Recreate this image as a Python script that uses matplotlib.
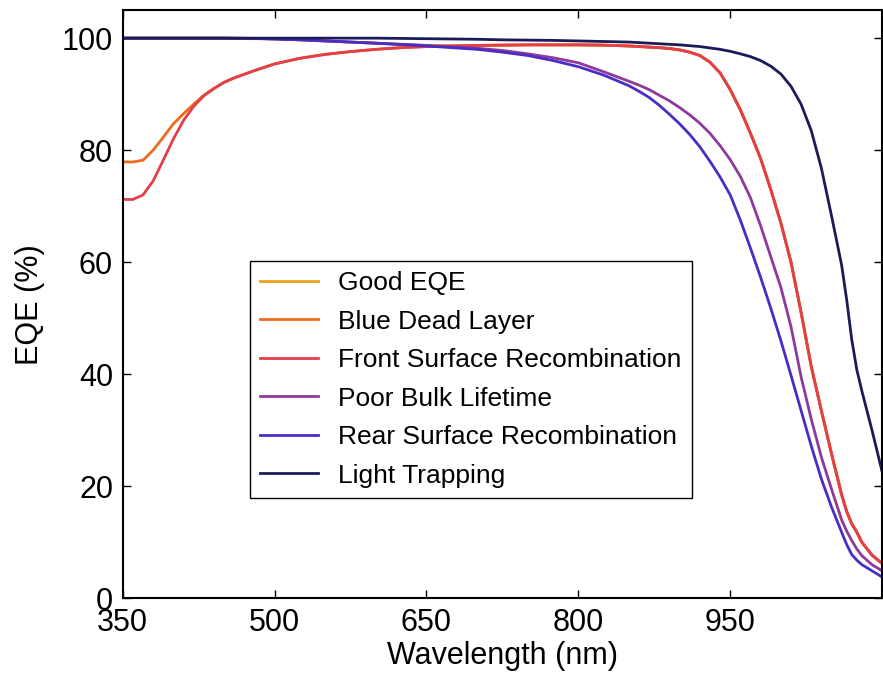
import numpy as np
import matplotlib
matplotlib.use('Agg')
import matplotlib.pyplot as plt

# EQE curves
wavelength = [350, 360, 370, 380, 390, 400, 410, 420, 430, 440, 450, 460, 480, 500,
              525, 550, 575, 600, 625, 650, 675, 700, 725, 750, 775, 800, 825, 850,
              860, 870, 880, 890, 900, 910, 920, 930, 940, 950, 960, 970, 980, 990, 1000,
              1010, 1020, 1030, 1040, 1050, 1060, 1065, 1070, 1075, 1080, 1090, 1100]

good_eqe = [100, 100, 100, 100, 100, 100, 100, 100, 100, 100, 100, 99.95, 99.9, 99.85,
            99.7, 99.5, 99.3, 99.1, 98.9, 98.7, 98.65, 98.7, 98.75, 98.8, 98.8, 98.8, 98.75, 98.6,
            98.5, 98.4, 98.3, 98.15, 97.9, 97.5, 96.9, 95.7, 93.8, 90.8, 87.2, 83, 78.5, 73, 67,
            60, 51, 41.4, 33.5, 25.8, 18.5, 15.5, 13.3, 11.8, 10, 7.7, 6.2]

blue_dead = [77.9, 77.9, 78.2, 80, 82.3, 84.7, 86.5, 88.2, 89.8, 91, 92.1, 92.9, 94.2, 95.4,
             96.4, 97.1, 97.6, 98.0, 98.3, 98.5, 98.6, 98.7, 98.75, 98.8, 98.8, 98.8, 98.75, 98.6,
             98.5, 98.4, 98.3, 98.15, 97.9, 97.5, 96.9, 95.7, 93.8, 90.8, 87.2, 83, 78.5, 73, 67,
             60, 51, 41.4, 33.5, 25.8, 18.5, 15.5, 13.3, 11.8, 10, 7.7, 6.2]

front_surface = [71.2, 71.2, 72, 74.5, 78.2, 82, 85.3, 87.8, 89.7, 91, 92.1, 92.9, 94.2, 95.4,
                 96.4, 97.1, 97.6, 98.0, 98.3, 98.5, 98.6, 98.7, 98.75, 98.8, 98.8, 98.8, 98.75, 98.6,
                 98.5, 98.4, 98.3, 98.15, 97.9, 97.5, 96.9, 95.7, 93.8, 90.8, 87.2, 83, 78.5, 73, 67,
                 60, 51, 41.4, 33.5, 25.8, 18.5, 15.5, 13.3, 11.8, 10, 7.7, 6.2]

poor_bulk = [100, 100, 100, 100, 100, 100, 100, 100, 100, 100, 100, 99.98, 99.95, 99.85,
             99.7, 99.5, 99.3, 99.1, 98.9, 98.7, 98.45, 98.2, 97.8, 97.2, 96.5, 95.6, 94.0, 92.3,
             91.6, 90.8, 89.8, 88.8, 87.6, 86.3, 84.8, 83, 80.8, 78.3, 75.3, 71.5, 66.5, 61, 55.5,
             48.5, 39.5, 32, 25.2, 19.5, 14, 12, 10.3, 8.8, 7.6, 6, 4.9]

rear_surface = [100, 100, 100, 100, 100, 100, 100, 100, 100, 100, 100, 99.98, 99.95, 99.85,
                99.7, 99.5, 99.3, 99.1, 98.85, 98.6, 98.3, 98.0, 97.5, 96.9, 96.0, 94.9, 93.4, 91.5,
                90.5, 89.4, 88.0, 86.4, 84.7, 82.8, 80.6, 78.0, 75.2, 72, 67.5, 62.5, 57.3, 51.8, 46,
                39.8, 33.5, 27.2, 21.3, 16.3, 11.8, 9.6, 7.8, 6.8, 6, 4.9, 3.8]

light_trapping = [100, 100, 100, 100, 100, 100, 100, 100, 100, 100, 100, 100, 100, 100,
                  100, 100, 100, 100, 99.95, 99.9, 99.85, 99.8, 99.7, 99.65, 99.6, 99.5, 99.4, 99.3,
                  99.2, 99.1, 99.0, 98.9, 98.8, 98.65, 98.5, 98.25, 98.0, 97.65, 97.2, 96.7, 96.0, 95.0, 93.6,
                  91.4, 88.2, 83.5, 76.8, 68.3, 59.5, 53.3, 46.2, 40.8, 37, 30, 22.6]

labels = ['Good EQE', 'Blue Dead Layer', 'Front Surface Recombination',
          'Poor Bulk Lifetime', 'Rear Surface Recombination', 'Light Trapping']
colours = ['#eba21a', '#ee6b1c', '#e23f4a', '#8e3a9c', '#4b2cc4', '#1c1b5a']

plt.rcParams['font.family'] = ['Liberation Sans', 'DejaVu Sans']

fig = plt.figure(figsize=(8.83, 6.76), dpi=100)
ax = fig.add_axes([0.139, 0.115, 0.860, 0.870])

series = [good_eqe, blue_dead, front_surface, poor_bulk, rear_surface, light_trapping]
for ys, lab, c in zip(series, labels, colours):
    ax.plot(wavelength, ys, color=c, lw=2.0, label=lab)

ax.set_xlim(350, 1100)
ax.set_ylim(0, 105)
ax.set_xticks([350, 500, 650, 800, 950])
ax.set_yticks([0, 20, 40, 60, 80, 100])
ax.tick_params(direction='in', top=True, right=True, length=6, width=1,
               labelsize=22, pad=7)
for sp in ax.spines.values():
    sp.set_linewidth(1.5)

ax.set_xlabel('Wavelength (nm)', fontsize=22, labelpad=2)
ax.set_ylabel('EQE (%)', fontsize=22, labelpad=12)

leg = ax.legend(loc='lower left', bbox_to_anchor=(0.167, 0.170), borderaxespad=0,
                fontsize=19, fancybox=False, edgecolor='black', framealpha=1,
                handlelength=2.2, handletextpad=0.75, labelspacing=0.55,
                borderpad=0.4)
leg.get_frame().set_linewidth(1.0)

fig.savefig('out.png', dpi=100)
